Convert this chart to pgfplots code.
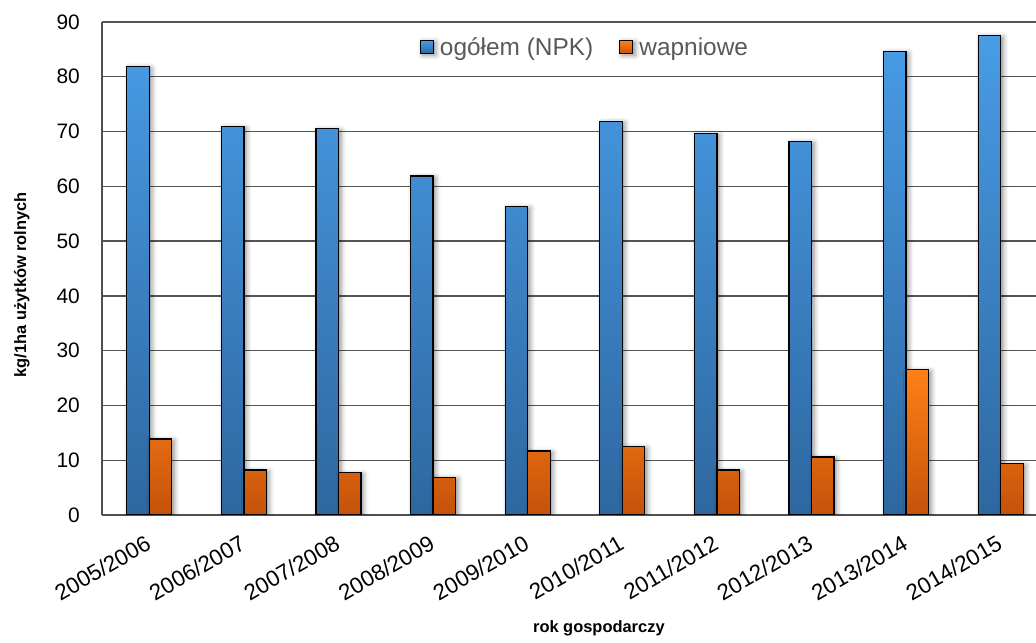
\documentclass[border=0pt]{standalone}
\usepackage{fontspec}
\setmainfont{Liberation Sans}
\usepackage{pgfplots}
\pgfplotsset{compat=1.18}
\usetikzlibrary{shadows.blur}

\definecolor{blueTop}{RGB}{72,156,230}
\definecolor{blueBot}{RGB}{46,103,160}
\definecolor{orangeTop}{RGB}{255,128,22}
\definecolor{orangeBot}{RGB}{196,82,10}
\definecolor{gridgray}{RGB}{85,85,85}
\definecolor{axisgray}{RGB}{80,80,80}
\definecolor{legendgray}{RGB}{89,89,89}

% nawozy: ogółem (NPK) i wapniowe, kg na 1 ha użytków rolnych
\pgfplotstableread{
x npk wapn
0 81.9 13.9
1 70.9 8.2
2 70.5 7.7
3 61.9 6.9
4 56.3 11.7
5 71.9 12.5
6 69.7 8.2
7 68.2 10.6
8 84.6 26.5
9 87.5 9.4
}\nawozy

\begin{document}
\begin{tikzpicture}
\path[use as bounding box] (0,0) rectangle (1036bp,643bp);
\begin{axis}[
  at={(102bp,128bp)}, anchor=south west,
  scale only axis, width=934bp, height=493bp,
  ybar=0pt, bar width=22.5bp,
  xmin=-0.5, xmax=9.373, ymin=0, ymax=90,
  ytick={0,10,...,90},
  xtick=data,
  xticklabels={2005/2006,2006/2007,2007/2008,2008/2009,2009/2010,2010/2011,2011/2012,2012/2013,2013/2014,2014/2015},
  axis x line*=bottom, axis y line*=left,
  ymajorgrids, grid style={draw=gridgray, line width=1.3bp},
  axis line style={draw=axisgray, line width=2bp},
  major tick length=0pt,
  /pgf/number format/assume math mode=true,
  yticklabel style={font=\fontsize{21}{24}\selectfont, inner sep=0pt, xshift=-22bp, anchor=east},
  xticklabel style={font=\fontsize{22.5}{25}\selectfont, inner sep=0pt, xshift=-5bp, yshift=-19bp, rotate=30, anchor=north east},
  xlabel={rok gospodarczy},
  ylabel={kg/1ha użytków rolnych},
  xlabel style={font=\bfseries\fontsize{16.5}{19}\selectfont, at={(axis description cs:0.532,-0.239)}, anchor=base},
  ylabel style={font=\bfseries\fontsize{16.5}{19}\selectfont, at={(axis description cs:-0.0857,0.467)}, anchor=center},
  legend style={at={(0.517,0.949)}, anchor=center, draw=none, fill=none,
    font=\fontsize{24.5}{27}\selectfont, text=legendgray,
    legend columns=-1, inner xsep=0pt,
    nodes={inner xsep=2bp},
    /tikz/every odd column/.append style={column sep=4bp},
    /tikz/every even column/.append style={column sep=24bp}},
  legend image code/.code={\draw[#1, line width=1.2bp] (0bp,-6.5bp) rectangle (13bp,6.5bp);},
  every axis plot/.append style={blur shadow={shadow xshift=2.5bp, shadow yshift=-1.5bp, shadow blur radius=5bp, shadow opacity=45}},
]
\addplot[draw=black, line width=1.3bp, top color=blueTop, bottom color=blueBot]
  table[x=x, y=npk] {\nawozy};
\addplot[draw=black, line width=1.3bp, top color=orangeTop, bottom color=orangeBot]
  table[x=x, y=wapn] {\nawozy};
\legend{ogółem (NPK), wapniowe}
\end{axis}
\end{tikzpicture}
\end{document}
